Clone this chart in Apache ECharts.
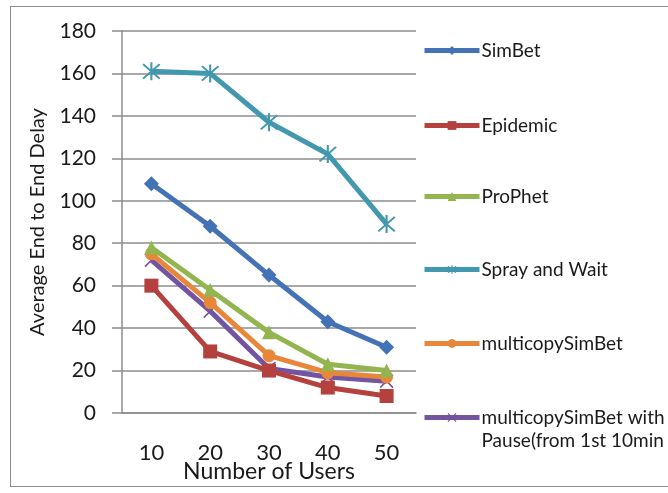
<!DOCTYPE html>
<html>
<head>
<meta charset="utf-8">
<script src="https://cdn.jsdelivr.net/npm/echarts@6/dist/echarts.min.js"></script>
<style>
html,body{margin:0;padding:0;background:#fff;}
#frame{position:absolute;left:10px;top:6px;width:700px;height:481px;border:1px solid #8c8c8c;box-sizing:border-box;}
#c{position:absolute;left:0;top:0;width:668px;height:493px;}
</style>
</head>
<body>
<div id="frame"></div>
<div id="c"></div>
<script>
const categories = ['10', '20', '30', '40', '50'];
const seriesNames = ['SimBet', 'Epidemic', 'ProPhet', 'Spray and Wait', 'multicopySimBet', 'multicopySimBet with\nPause(from 1st 10min'];
const simBet = [108, 88, 65, 43, 31];
const epidemic = [60, 29, 20, 12, 8];
const proPhet = [78, 58, 38, 23, 20];
const sprayAndWait = [161, 160, 137, 122, 89];
const multicopySimBet = [75, 52, 27, 19, 17];
const multicopyPause = [72, 48, 21, 17, 15];
const yTicks = [0, 20, 40, 60, 80, 100, 120, 140, 160, 180];

const colors = ['#4372B5', '#B5413E', '#93B550', '#4198AF', '#E8873A', '#7354A0'];
const asterisk = 'path://M9,0L11,0L11,20L9,20Z M2.7,1.3L18.7,17.3L17.3,18.7L1.3,2.7Z M17.3,1.3L18.7,2.7L2.7,18.7L1.3,17.3Z';
const cross = 'path://M2.7,1.3L18.7,17.3L17.3,18.7L1.3,2.7Z M17.3,1.3L18.7,2.7L2.7,18.7L1.3,17.3Z';
const symbols = ['diamond', 'rect', 'triangle', asterisk, 'circle', cross];
const symbolSizes = [15, 14, 14, 18, 13, 14];
const dataSets = [simBet, epidemic, proPhet, sprayAndWait, multicopySimBet, multicopyPause];
const legendTops = [39, 114, 185, 258, 332, 383];

const font = 'Lato';
const chart = echarts.init(document.getElementById('c'));
const series = dataSets.map((d, i) => ({
  name: seriesNames[i],
  type: 'line',
  data: d,
  symbol: symbols[i],
  symbolSize: symbolSizes[i],
  lineStyle: { width: 5, color: colors[i] },
  itemStyle: { color: colors[i] },
  z: 10 - i
}));
const legends = seriesNames.map((n, i) => ({
  data: [n],
  left: 422,
  top: legendTops[i],
  itemWidth: 55,
  itemHeight: 11,
  itemGap: 4,
  lineStyle: { width: 5 },
  formatter: i === 5 ? (name => ' \n' + name) : (name => name),
  textStyle: { fontFamily: font, fontSize: 19, color: '#1a1a1a', lineHeight: 23, padding: [0, 0, 0, -3] },
  padding: 0
}));
chart.setOption({
  animation: false,
  backgroundColor: 'transparent',
  color: colors,
  legend: legends,
  grid: { left: 122, right: 252, top: 31, bottom: 80, containLabel: false, outerBoundsMode: 'none' },
  xAxis: {
    type: 'category',
    data: categories,
    boundaryGap: true,
    name: 'Number of Users',
    nameLocation: 'middle',
    nameGap: 47,
    nameMoveOverlap: false,
    nameTextStyle: { fontFamily: font, fontSize: 23, color: '#1a1a1a' },
    axisLine: { lineStyle: { color: '#8c8c8c', width: 1.5 } },
    axisTick: { show: false },
    axisLabel: { margin: 29, fontFamily: font, fontSize: 22, color: '#1a1a1a' }
  },
  yAxis: {
    type: 'value',
    min: 0,
    max: 180,
    interval: 20,
    name: 'Average End to End Delay',
    nameLocation: 'middle',
    nameGap: 74,
    nameMoveOverlap: false,
    nameTextStyle: { fontFamily: font, fontSize: 20, color: '#1a1a1a' },
    axisLine: { show: true, lineStyle: { color: '#8c8c8c', width: 1.5 } },
    axisTick: { show: true, length: 10, lineStyle: { color: '#8c8c8c', width: 1.5 } },
    axisLabel: { margin: 26, fontFamily: font, fontSize: 21, color: '#1a1a1a',
      formatter: v => yTicks.includes(v) ? String(v) : '' },
    splitLine: { lineStyle: { color: '#8c8c8c', width: 1.5 } }
  },
  series: series
});
</script>
</body>
</html>
